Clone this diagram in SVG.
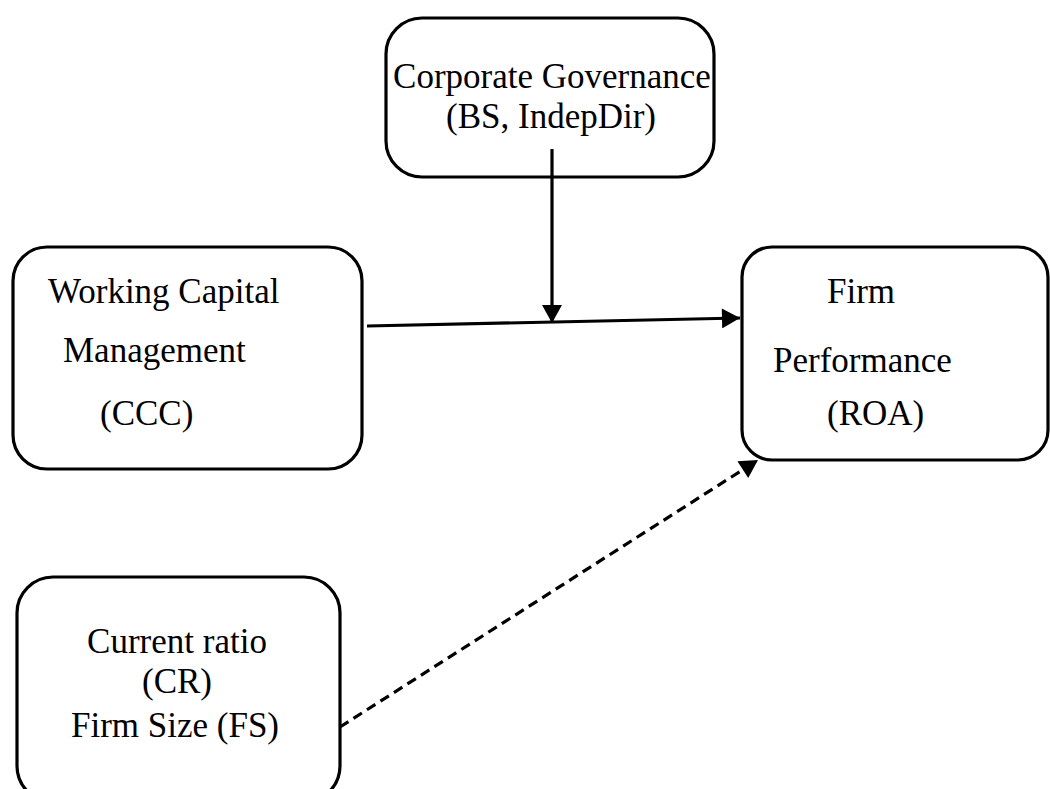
<svg xmlns="http://www.w3.org/2000/svg" width="1050" height="789" viewBox="0 0 1050 789">
<style>
.box{fill:#fff;stroke:#000;stroke-width:3.2}
.t{font-family:"Liberation Serif","Times New Roman",serif;font-size:35px;fill:#000}
.c{stroke:#000;stroke-width:3.2;fill:none}
</style>
<defs>
<marker id="ah" markerUnits="userSpaceOnUse" markerWidth="20" markerHeight="20" viewBox="0 0 18 20" refX="18" refY="10" orient="auto">
<path d="M0,0 L18,10 L0,20 Z" fill="#000"/>
</marker>
</defs>
<rect width="1050" height="789" fill="#fff"/>
<g id="corporate-governance">
<rect class="box" x="386" y="18" width="328" height="159" rx="36" ry="36"/>
<text class="t" x="552" y="88" text-anchor="middle">Corporate Governance</text>
<text class="t" x="551" y="128" text-anchor="middle">(BS, IndepDir)</text>
</g>
<g id="working-capital">
<rect class="box" x="13" y="247" width="349" height="222" rx="34" ry="34"/>
<text class="t" x="48" y="303">Working Capital</text>
<text class="t" x="63" y="362">Management</text>
<text class="t" x="100" y="425">(CCC)</text>
</g>
<g id="firm-performance">
<rect class="box" x="742" y="247" width="306" height="213" rx="30" ry="30"/>
<text class="t" x="827" y="303">Firm</text>
<text class="t" x="773" y="372">Performance</text>
<text class="t" x="827" y="425">(ROA)</text>
</g>
<g id="current-ratio">
<rect class="box" x="17" y="577" width="323" height="225" rx="36" ry="36"/>
<text class="t" x="177" y="653" text-anchor="middle">Current ratio</text>
<text class="t" x="177" y="693" text-anchor="middle">(CR)</text>
<text class="t" x="175" y="737" text-anchor="middle">Firm Size (FS)</text>
</g>
<g id="connectors">
<line class="c" x1="367" y1="326" x2="740" y2="318" marker-end="url(#ah)"/>
<line class="c" x1="552" y1="149" x2="552" y2="323" marker-end="url(#ah)"/>
<line class="c" x1="340" y1="727" x2="758" y2="460" stroke-width="3.6" stroke-dasharray="10,6" marker-end="url(#ah)"/>
</g>
</svg>
